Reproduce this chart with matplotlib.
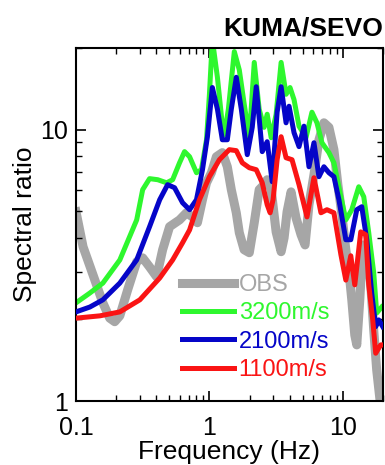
import matplotlib
matplotlib.use("Agg")
import matplotlib.pyplot as plt
from matplotlib.ticker import NullFormatter

plt.rcParams['font.family'] = ['Liberation Sans', 'DejaVu Sans']

# observed spectral ratio (OBS)
obs_freq = [0.1, 0.113, 0.134, 0.159, 0.179, 0.195, 0.213, 0.244, 0.285, 0.316,
            0.356, 0.402, 0.446, 0.503, 0.597, 0.673, 0.747, 0.813, 0.887, 0.951,
            1.035, 1.128, 1.25, 1.362, 1.459, 1.59, 1.675, 1.82, 1.99, 2.168,
            2.36, 2.57, 2.71, 2.904, 3.162, 3.447, 3.628, 3.819, 4.092, 4.458,
            4.86, 5.21, 5.575, 6.075, 6.621, 7.216, 7.866, 8.574, 9.18, 9.84,
            10.53, 11.09, 11.67, 12.29, 12.72, 13.4, 14.1, 15.11, 16.19, 17.04,
            17.94, 18.9]
obs_val = [4.98, 3.70, 2.92, 2.30, 2.02, 1.96, 2.06, 2.57, 3.26, 3.37,
           3.12, 2.87, 3.61, 4.39, 4.65, 4.94, 4.77, 4.54, 5.52, 6.37,
           6.94, 7.95, 8.23, 7.30, 6.01, 4.94, 4.17, 3.61, 3.52, 4.54,
           6.01, 6.27, 6.54, 6.01, 4.20, 3.55, 3.99, 4.98, 5.90, 4.73,
           4.10, 3.76, 5.29, 6.82, 9.18, 10.6, 10.2, 8.44, 6.27, 4.86,
           3.61, 3.04, 2.36, 1.75, 1.61, 2.36, 3.76, 3.61, 2.68, 1.83,
           1.30, 1.03]

# model 3200 m/s
g_freq = [0.1, 0.127, 0.159, 0.213, 0.285, 0.316, 0.356, 0.410, 0.478, 0.530,
          0.597, 0.651, 0.710, 0.80, 0.871, 0.951, 1.0, 1.052, 1.148, 1.25,
          1.294, 1.387, 1.537, 1.675, 1.824, 1.99, 2.168, 2.36, 2.57, 2.71,
          2.904, 3.162, 3.447, 3.754, 4.02, 4.307, 4.695, 5.294, 5.868, 6.397,
          6.972, 7.866, 8.574, 9.673, 10.53, 11.67, 13.16, 14.35, 15.64, 17.04,
          17.94, 19.55]
g_val = [2.30, 2.50, 2.72, 3.31, 4.65, 6.01, 6.60, 6.54, 6.37, 6.54,
         7.55, 8.30, 7.95, 6.94, 7.12, 9.18, 13.5, 21.5, 15.6, 10.4,
         9.59, 11.9, 19.4, 16.6, 12.4, 9.34, 17.7, 11.9, 10.2, 11.4,
         9.34, 11.4, 17.7, 13.5, 14.3, 12.9, 10.3, 9.34, 11.6, 10.6,
         8.95, 8.23, 7.55, 5.66, 4.65, 5.07, 6.16, 5.66, 4.17, 2.97,
         2.11, 2.22]

# model 2100 m/s
b_freq = [0.1, 0.127, 0.159, 0.213, 0.285, 0.356, 0.424, 0.486, 0.548, 0.629,
          0.710, 0.80, 0.887, 0.966, 1.052, 1.148, 1.25, 1.362, 1.459, 1.59,
          1.734, 1.922, 2.094, 2.244, 2.488, 2.71, 2.954, 3.217, 3.447, 3.754,
          3.953, 4.307, 4.695, 5.115, 5.575, 6.075, 6.621, 7.216, 7.866, 8.574,
          9.345, 10.53, 11.47, 12.72, 13.86, 15.11, 16.46, 17.64, 18.57, 19.9]
b_val = [2.13, 2.22, 2.36, 2.72, 3.31, 4.39, 5.52, 6.27, 6.11, 5.38,
         5.07, 5.52, 7.12, 9.42, 14.3, 11.9, 9.18, 9.18, 11.9, 15.6,
         11.9, 8.09, 10.2, 14.4, 8.30, 9.03, 6.43, 11.6, 14.4, 10.6,
         12.2, 9.75, 8.66, 10.3, 7.30, 8.95, 6.71, 7.30, 6.94, 6.71,
         5.52, 3.93, 3.93, 5.07, 5.20, 3.93, 2.50, 1.88, 1.99, 1.88]

# model 1100 m/s
r_freq = [0.1, 0.151, 0.213, 0.301, 0.424, 0.530, 0.629, 0.710, 0.842, 1.0,
          1.188, 1.409, 1.59, 1.763, 1.99, 2.244, 2.488, 2.71, 2.85, 3.0,
          3.217, 3.447, 3.754, 4.16, 4.695, 5.386, 6.075, 6.853, 7.599, 8.574,
          9.673, 10.53, 11.47, 12.29, 13.62, 14.85, 15.64, 16.75, 17.64, 19.22,
          19.9]
r_val = [2.02, 2.06, 2.13, 2.36, 2.84, 3.31, 3.83, 4.27, 5.52, 6.71,
         7.75, 8.44, 8.37, 7.55, 7.24, 7.12, 6.37, 5.29, 4.94, 5.52,
         7.75, 9.42, 7.88, 7.75, 6.27, 4.77, 6.65, 4.94, 5.07, 4.94,
         3.46, 2.79, 3.43, 2.68, 4.20, 4.10, 2.68, 1.99, 1.50, 1.61,
         1.61]

fig = plt.figure(figsize=(3.85, 4.65), dpi=100)
ax = fig.add_axes([76 / 385, 64 / 465, 307 / 385, 353 / 465])

ax.plot(obs_freq, obs_val, color='#a6a6a6', lw=6.5, label='OBS', zorder=1)
ax.plot(g_freq, g_val, color='#2ef72e', lw=3.6, label='3200m/s', zorder=2)
ax.plot(b_freq, b_val, color='#0505c8', lw=3.6, label='2100m/s', zorder=3)
ax.plot(r_freq, r_val, color='#fa1414', lw=3.6, label='1100m/s', zorder=4)

ax.set_xscale('log')
ax.set_yscale('log')
ax.set_xlim(0.1, 20)
ax.set_ylim(1, 20)
ax.set_xticks([0.1, 1, 10])
ax.set_xticklabels(['0.1', '1', '10'])
ax.set_yticks([1, 10])
ax.set_yticklabels(['1', '10'])
ax.xaxis.set_minor_formatter(NullFormatter())
ax.yaxis.set_minor_formatter(NullFormatter())
ax.tick_params(which='both', direction='in', top=True, right=True,
               labelsize=18)
ax.tick_params(axis='y', pad=6)
ax.tick_params(axis='x', pad=11)
ax.tick_params(which='major', length=7, width=1.2)
ax.tick_params(which='minor', length=4, width=1.0)
for s in ax.spines.values():
    s.set_linewidth(1.5)

ax.set_xlabel('Frequency (Hz)', fontsize=19, labelpad=0)
ax.set_ylabel('Spectral ratio', fontsize=19, labelpad=2)

ax.legend(loc='upper left', bbox_to_anchor=(0.345, 0.360), frameon=False,
          fontsize=17, handlelength=2.2, handletextpad=0.2,
          labelspacing=0.27, borderpad=0, borderaxespad=0,
          labelcolor='linecolor')

fig.text(383 / 385, 1 - 36 / 465, 'KUMA/SEVO', ha='right', va='baseline',
         fontsize=19, fontweight='bold')

fig.savefig('out.png', dpi=100)
